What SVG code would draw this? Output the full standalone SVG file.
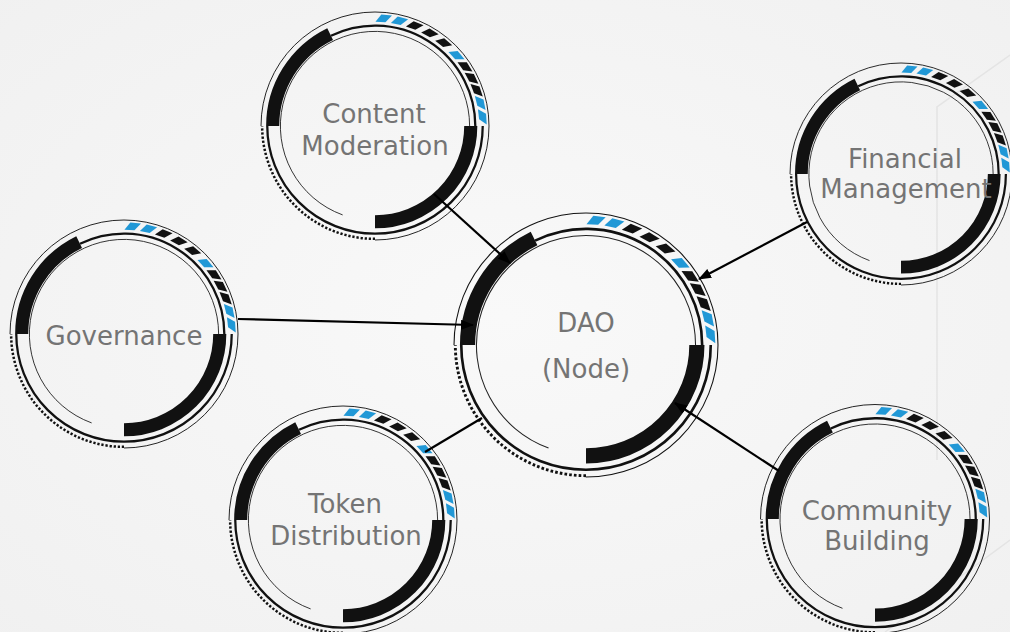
<svg xmlns="http://www.w3.org/2000/svg" width="1010" height="632" viewBox="0 0 1010 632">
  <style>
    .thin{fill:none;stroke:#111;stroke-width:0.8}
    .dots{fill:none;stroke:#111;stroke-width:2.2;stroke-dasharray:2 1.6}
    .mid{fill:none;stroke:#111;stroke-width:2}
    .inner{fill:none;stroke:#222;stroke-width:0.8}
    .thick{fill:none;stroke:#111;stroke-width:11.5}
    .b{fill:#2198d6}
    .k{fill:#111}
    .label{font-family:"DejaVu Sans","Liberation Sans",sans-serif;font-size:26px;fill:#747474;text-anchor:middle}
    .link{fill:none;stroke:#000;stroke-width:2.2}
    .faint{fill:none;stroke:#e4e4e4;stroke-width:1.5}
  </style>
  <defs>
    <radialGradient id="bg" cx="50%" cy="50%" r="75%">
      <stop offset="0" stop-color="#f9f9f9"/>
      <stop offset="1" stop-color="#f0f0f0"/>
    </radialGradient>
    <marker id="arrow" markerUnits="userSpaceOnUse" markerWidth="13" markerHeight="10" refX="12" refY="5" orient="auto">
      <path d="M0,0 L13,5 L0,10 z" fill="#000"/>
    </marker>
    <!-- one slanted segment of the striped band, drawn at the top of a unit ring (r = 100) -->
    <polygon id="stripe" points="-6.78,-91.25 2,-91.48 7.26,-97.73 -2.14,-97.98"/>
    <!-- HUD-style ring, radius 100 around the origin -->
    <g id="ring">
      <path class="thin" d="M-100,0 A100,100 0 1 1 0,100"/>
      <path class="dots" d="M0,99 A99,99 0 0 1 -99,0"/>
      <path class="mid" d="M-38.58,-79.09 A88,88 0 0 1 88,0"/>
      <path class="mid" d="M94.5,0 A94.5,94.5 0 0 1 0,94.5 A94.5,94.5 0 0 1 -94.5,0"/>
      <path class="inner" d="M-28.39,78 A83,83 0 1 1 83,0"/>
      <path class="thick" d="M-89.75,0 A89.75,89.75 0 0 1 -39.35,-80.67"/>
      <path class="thick" d="M84,0 A84,84 0 0 1 0,84"/>
      <use href="#stripe" class="b" transform="rotate(4.5)"/>
      <use href="#stripe" class="b" transform="rotate(13)"/>
      <use href="#stripe" class="k" transform="rotate(21.5)"/>
      <use href="#stripe" class="k" transform="rotate(30.5)"/>
      <use href="#stripe" class="k" transform="rotate(39.5)"/>
      <use href="#stripe" class="b" transform="rotate(49)"/>
      <use href="#stripe" class="k" transform="rotate(56.5)"/>
      <use href="#stripe" class="k" transform="rotate(63.5)"/>
      <use href="#stripe" class="k" transform="rotate(70.5)"/>
      <use href="#stripe" class="b" transform="rotate(77.5)"/>
      <use href="#stripe" class="b" transform="rotate(85)"/>
    </g>
  </defs>

  <rect width="1010" height="632" fill="url(#bg)"/>
  <g id="backdrop">
    <polyline class="faint" points="1010,55 937,107 937,460"/>
    <line class="faint" x1="885" y1="632" x2="1010" y2="540"/>
  </g>

  <g id="node-dao">
    <use href="#ring" transform="translate(586 345) scale(1.32)"/>
    <text class="label" x="586" y="332">DAO</text>
    <text class="label" x="586" y="378">(Node)</text>
  </g>
  <g id="node-content">
    <use href="#ring" transform="translate(375 126) scale(1.14)"/>
    <text class="label" x="374" y="123">Content</text>
    <text class="label" x="375" y="155">Moderation</text>
  </g>
  <g id="node-governance">
    <use href="#ring" transform="translate(124 334) scale(1.14)"/>
    <text class="label" x="124" y="345">Governance</text>
  </g>
  <g id="node-financial">
    <use href="#ring" transform="translate(901 174) scale(1.11)"/>
    <text class="label" x="905" y="168">Financial</text>
    <text class="label" x="906" y="198">Management</text>
  </g>
  <g id="node-token">
    <use href="#ring" transform="translate(343 520) scale(1.14)"/>
    <text class="label" x="345" y="513">Token</text>
    <text class="label" x="346" y="545">Distribution</text>
  </g>
  <g id="node-community">
    <use href="#ring" transform="translate(875 519) scale(1.145)"/>
    <text class="label" x="877" y="520">Community</text>
    <text class="label" x="877" y="550">Building</text>
  </g>

  <g id="connectors">
    <line class="link" x1="434" y1="194" x2="510" y2="263" marker-end="url(#arrow)"/>
    <line class="link" x1="238" y1="319" x2="473" y2="325" marker-end="url(#arrow)"/>
    <line class="link" x1="807" y1="222" x2="699" y2="279" marker-end="url(#arrow)"/>
    <line class="link" x1="779" y1="471" x2="675" y2="403" marker-end="url(#arrow)"/>
    <line class="link" x1="425" y1="452" x2="482" y2="418"/>
  </g>
</svg>
